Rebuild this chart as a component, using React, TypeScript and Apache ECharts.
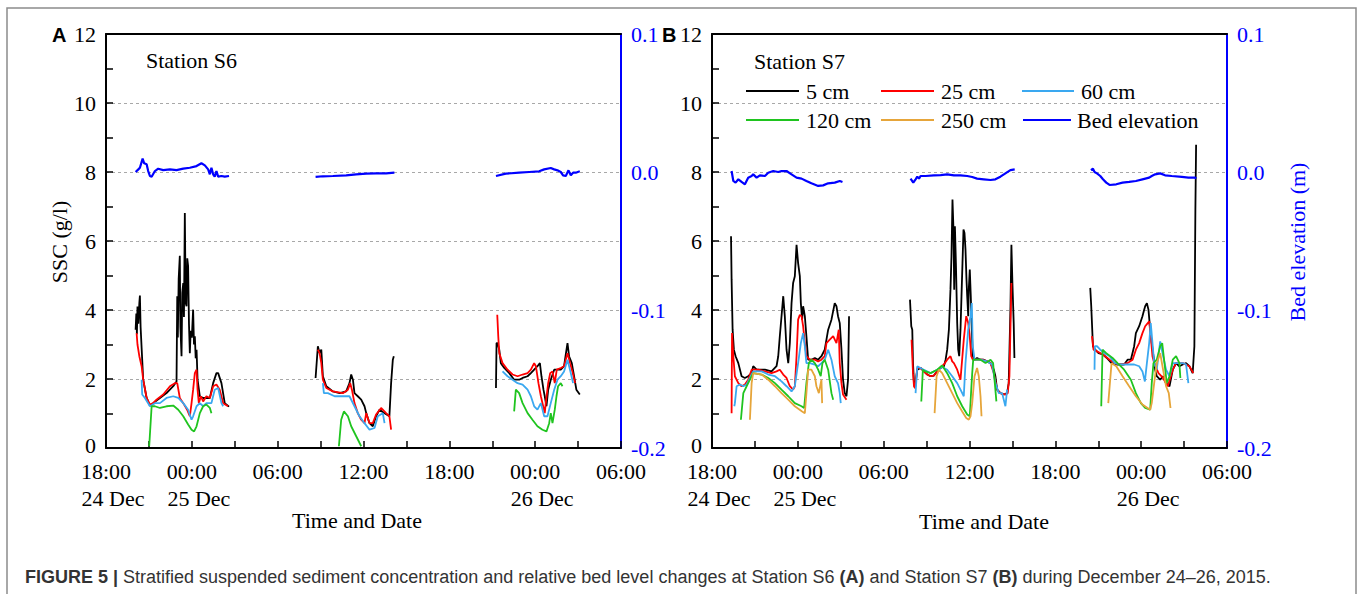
import React, { useEffect, useRef } from "react";
import * as echarts from "echarts";

// ---- axis tick labels ----
const TIME_LABELS = ["18:00", "00:00", "06:00", "12:00", "18:00", "00:00", "06:00"];
const DATE_LABELS = ["24 Dec", "25 Dec", "", "", "", "26 Dec", ""];
// x = hours after 18:00, 24 Dec 2015 (axis spans 36 h)
const X_MAX = 36;

// ---- Station S6 (panel A) : [hour, SSC g/l] ----
const S6_5CM = [
  [[2.07,3.43],[2.12,3.9],[2.16,3.3],[2.2,4.1],[2.26,3.6],[2.33,4.2],[2.37,4.42],[2.42,3.5],[2.49,2.9],[2.6,1.98],[2.84,1.45],[3.07,1.23],[3.3,1.3],[3.77,1.45],[4.23,1.59],[4.7,1.79],[4.93,1.93],[4.98,4.4],[5.02,3.2],[5.08,4.9],[5.16,5.57],[5.2,3.5],[5.28,2.66],[5.33,4.5],[5.4,4.78],[5.45,3.8],[5.51,6.81],[5.57,4.2],[5.63,4.11],[5.68,5.5],[5.74,5.27],[5.8,3.6],[5.86,2.75],[5.92,3.4],[6.0,3.2],[6.09,4.01],[6.15,3.0],[6.21,3.24],[6.27,2.6],[6.33,2.85],[6.4,1.98],[6.56,1.5],[6.79,1.45],[7.02,1.45],[7.26,1.45],[7.49,1.88],[7.72,2.17],[7.84,2.17],[8.07,1.88],[8.3,1.3],[8.6,1.2]],
  [[14.65,2.03],[14.81,2.95],[14.93,2.75],[15.05,2.85],[15.16,2.08],[15.4,1.79],[15.86,1.64],[16.33,1.59],[16.79,1.64],[17.02,1.88],[17.14,2.13],[17.26,1.98],[17.37,1.59],[17.6,1.5],[17.84,1.4],[18.07,1.21],[18.19,1.01],[18.42,0.72],[18.65,0.63],[18.88,0.92],[19.12,1.11],[19.47,1.01],[19.81,0.92],[19.93,1.88],[20.05,2.56],[20.12,2.66]],
  [[27.26,1.74],[27.3,3.04],[27.37,3.04],[27.49,2.85],[27.6,2.46],[27.84,2.32],[28.19,2.17],[28.53,1.98],[28.88,1.98],[29.12,2.03],[29.47,2.08],[29.7,2.17],[29.93,2.27],[30.16,2.37],[30.33,2.46],[30.44,2.08],[30.58,1.69],[30.67,1.5],[30.79,1.21],[30.91,1.69],[31.09,1.98],[31.33,2.27],[31.56,2.27],[31.79,2.27],[32.02,2.37],[32.19,2.85],[32.26,3.04],[32.37,2.66],[32.56,2.46],[32.72,2.08],[32.88,1.69],[33.12,1.55]],
];
const S6_25CM = [
  [[2.14,3.33],[2.2,3.0],[2.33,2.66],[2.49,2.37],[2.6,1.98],[2.84,1.45],[3.07,1.26],[3.3,1.3],[3.53,1.4],[4.0,1.55],[4.47,1.79],[4.81,1.88],[4.98,1.88],[5.16,1.45],[5.4,1.3],[5.67,1.11],[5.86,0.92],[5.98,1.3],[6.09,1.69],[6.21,2.17],[6.33,2.27],[6.4,1.69],[6.49,1.3],[6.63,1.5],[6.79,1.35],[7.02,1.5],[7.26,1.45],[7.49,1.79],[7.72,1.84],[7.95,1.69],[8.19,1.3],[8.53,1.21]],
  [[14.81,2.85],[14.93,2.75],[15.05,2.46],[15.16,1.98],[15.4,1.74],[15.86,1.64],[16.56,1.59],[16.91,1.69],[17.07,1.88],[17.19,1.69],[17.37,1.3],[17.6,1.01],[17.84,0.82],[18.07,0.72],[18.19,1.01],[18.42,0.72],[18.65,0.72],[18.88,0.97],[19.23,1.16],[19.58,1.01],[19.81,0.92],[19.93,0.53]],
  [[27.35,3.86],[27.42,3.24],[27.49,2.75],[27.72,2.46],[28.07,2.27],[28.42,2.13],[28.77,2.08],[29.12,2.13],[29.47,2.17],[29.7,2.27],[29.93,2.46],[30.05,2.37],[30.23,1.88],[30.4,1.5],[30.56,1.21],[30.67,1.01],[30.74,1.3],[30.91,1.88],[31.05,2.17],[31.21,2.22],[31.37,1.88],[31.51,2.27],[31.79,2.32],[32.02,2.37],[32.26,2.75],[32.44,2.46],[32.6,2.22],[32.79,1.88]],
];
const S6_60CM = [
  [[2.49,1.98],[2.53,1.55],[2.72,1.45],[3.07,1.21],[3.42,1.3],[3.77,1.3],[4.23,1.45],[4.7,1.5],[5.05,1.45],[5.4,1.3],[5.74,1.11],[5.98,0.82],[6.09,0.92],[6.33,1.21],[6.56,1.3],[6.79,1.21],[7.02,1.3],[7.37,1.3],[7.6,1.69],[7.84,1.74],[8.07,1.3],[8.19,1.21]],
  [[15.16,1.88],[15.23,1.59],[15.51,1.59],[15.98,1.5],[16.56,1.5],[17.02,1.5],[17.37,1.21],[17.72,0.92],[18.07,0.72],[18.42,0.53],[18.77,0.58],[19.0,0.92],[19.35,1.01],[19.47,0.72]],
  [[27.72,2.22],[28.07,2.08],[28.42,1.98],[28.77,1.88],[29.12,1.84],[29.47,1.69],[29.7,1.5],[29.93,1.21],[30.16,1.11],[30.4,1.3],[30.63,0.92],[30.86,0.92],[31.09,1.3],[31.33,1.69],[31.56,1.98],[31.79,2.08],[32.02,2.22],[32.26,2.56],[32.49,2.17],[32.65,1.88]],
];
const S6_120CM = [
  [[3.02,0.05],[3.19,1.21],[3.42,1.21],[3.77,1.16],[4.23,1.21],[4.7,1.23],[5.05,1.11],[5.4,0.92],[5.74,0.68],[5.98,0.53],[6.16,0.48],[6.33,0.63],[6.56,1.01],[6.79,1.21],[7.02,1.26],[7.26,1.16],[7.37,1.01]],
  [[16.28,0.05],[16.44,0.82],[16.63,1.06],[16.91,0.92],[17.14,0.63],[17.49,0.34],[17.84,0.05]],
  [[28.53,1.06],[28.65,1.69],[28.88,1.59],[29.12,1.3],[29.47,1.01],[29.81,0.82],[30.16,0.63],[30.51,0.53],[30.79,0.48],[30.98,0.72],[31.09,1.01],[31.21,0.72],[31.37,1.11],[31.49,1.5],[31.6,1.79],[31.79,1.88],[31.91,1.79]],
];
// bed elevation, m
const S6_BED = [
  [[2.07,0.0],[2.26,0.0019],[2.37,0.0031],[2.56,0.0097],[2.67,0.0063],[2.84,0.0056],[2.95,0.0007],[3.07,-0.0029],[3.19,-0.0034],[3.42,0.0007],[3.65,0.0024],[4.0,0.0014],[4.47,0.0019],[4.93,0.0014],[5.4,0.0024],[5.86,0.0031],[6.33,0.0043],[6.67,0.0063],[6.91,0.0048],[7.14,0.0019],[7.26,-0.0017],[7.37,0.0031],[7.49,-0.0017],[7.6,-0.0034],[7.72,0.0007],[7.84,-0.0034],[8.07,-0.0029],[8.3,-0.0034],[8.6,-0.0029]],
  [[14.65,-0.0036],[15.16,-0.0031],[15.86,-0.0029],[16.79,-0.0024],[17.49,-0.0017],[18.19,-0.0012],[18.88,-0.001],[19.58,-0.001],[20.16,-0.0005]],
  [[27.26,-0.0029],[27.95,-0.0012],[28.88,-0.0005],[29.58,0.0],[30.28,0.0005],[30.63,0.0019],[31.09,0.0029],[31.33,0.0019],[31.56,0.0012],[31.79,0.0],[31.95,-0.0024],[32.14,-0.0029],[32.33,0.0012],[32.49,-0.0024],[32.65,-0.0005],[32.84,-0.0005],[33.12,0.0005]],
];

// ---- Station S7 (panel B) ----
const S7_5CM = [
  [[1.33,6.14],[1.37,4.88],[1.44,3.43],[1.53,2.85],[1.65,2.66],[1.84,2.46],[2.07,2.08],[2.3,2.03],[2.53,2.08],[2.77,2.17],[2.88,2.37],[3.12,2.27],[3.7,2.27],[4.16,2.22],[4.51,2.37],[4.63,2.66],[4.74,3.24],[4.86,3.82],[4.98,4.4],[5.09,3.82],[5.21,2.85],[5.33,2.46],[5.44,3.04],[5.56,4.2],[5.67,4.78],[5.79,4.98],[5.91,5.89],[6.02,5.36],[6.14,4.98],[6.21,4.2],[6.3,3.72],[6.37,4.11],[6.49,3.82],[6.6,3.24],[6.72,2.56],[6.95,2.56],[7.19,2.61],[7.42,2.56],[7.65,2.66],[7.88,2.85],[8.12,3.43],[8.35,3.72],[8.58,4.2],[8.7,4.11],[8.81,3.82],[8.93,3.62],[9.05,2.85],[9.16,1.98],[9.28,1.59],[9.4,1.5],[9.51,1.98],[9.58,3.82]],
  [[13.84,4.3],[13.93,3.53],[14.0,3.43],[14.05,2.46],[14.12,1.88],[14.19,1.74],[14.35,2.27],[14.58,2.32],[14.81,2.22],[15.05,2.13],[15.28,2.08],[15.51,2.1],[15.74,2.22],[15.98,2.32],[16.21,2.37],[16.33,2.56],[16.44,2.85],[16.56,3.43],[16.67,4.59],[16.74,5.56],[16.81,7.2],[16.88,6.33],[16.93,4.59],[16.98,6.43],[17.05,5.36],[17.14,3.62],[17.21,2.85],[17.28,2.66],[17.37,3.43],[17.44,4.4],[17.51,5.36],[17.58,6.33],[17.65,6.23],[17.72,5.75],[17.79,4.88],[17.84,4.4],[17.91,3.82],[17.95,4.59],[18.02,5.17],[18.09,4.4],[18.16,3.43],[18.23,2.66],[18.35,2.56],[18.53,2.61],[18.77,2.56],[19.0,2.56],[19.23,2.51],[19.47,2.46],[19.7,2.27],[19.81,2.08],[19.93,1.69],[20.16,1.59],[20.4,1.55],[20.63,1.59],[20.74,1.88],[20.86,4.01],[20.93,5.89],[21.0,4.78],[21.09,3.62],[21.14,2.61]],
  [[26.44,4.64],[26.51,4.11],[26.58,3.43],[26.63,2.95],[26.79,2.85],[27.02,2.75],[27.33,2.71],[27.6,2.61],[27.93,2.46],[28.35,2.42],[28.81,2.42],[29.05,2.56],[29.28,2.56],[29.51,2.95],[29.63,3.33],[29.86,3.53],[30.09,3.82],[30.21,4.01],[30.28,4.11],[30.4,4.2],[30.51,4.01],[30.63,3.43],[30.74,3.04],[30.86,2.66],[30.98,2.27],[31.09,2.08],[31.33,1.98],[31.53,2.08],[31.74,1.88],[31.98,1.79],[32.21,2.27],[32.44,2.46],[32.67,2.37],[32.91,2.42],[33.14,2.46],[33.37,2.37],[33.6,2.17],[33.72,2.95],[33.79,6.91],[33.84,8.79]],
];
const S7_25CM = [
  [[1.37,1.01],[1.4,3.33],[1.49,2.66],[1.6,2.08],[1.84,1.88],[2.07,1.79],[2.3,1.84],[2.53,1.98],[2.77,2.27],[3.23,2.27],[3.7,2.22],[4.16,2.17],[4.51,2.22],[4.74,2.27],[4.98,2.13],[5.21,2.03],[5.44,1.79],[5.67,1.69],[5.79,1.79],[5.91,2.66],[6.02,3.72],[6.14,3.86],[6.26,3.82],[6.37,3.53],[6.49,3.04],[6.6,2.66],[6.84,2.56],[7.19,2.56],[7.42,2.51],[7.65,2.56],[7.88,2.66],[8.0,3.04],[8.23,3.14],[8.47,3.24],[8.7,3.04],[8.86,3.43],[8.93,2.46],[9.05,1.88],[9.16,1.55],[9.4,1.4]],
  [[13.95,3.14],[14.05,2.17],[14.12,1.79],[14.19,1.74],[14.35,2.32],[14.58,2.32],[14.81,2.22],[15.05,2.13],[15.28,2.08],[15.51,2.1],[15.74,2.22],[15.98,2.35],[16.21,2.42],[16.44,2.56],[16.67,2.66],[16.79,2.51],[16.91,2.46],[17.14,2.27],[17.37,1.98],[17.6,3.14],[17.77,3.82],[17.91,3.62],[18.0,3.33],[18.12,2.66],[18.23,2.56],[18.53,2.56],[18.88,2.56],[19.23,2.51],[19.47,2.46],[19.7,2.17],[19.93,1.69],[20.16,1.59],[20.51,1.55],[20.67,1.59],[20.79,2.08],[20.86,3.43],[20.93,4.78]],
  [[26.56,3.24],[26.67,2.85],[26.91,2.8],[27.33,2.71],[27.79,2.56],[28.16,2.46],[28.58,2.42],[29.05,2.46],[29.4,2.56],[29.63,2.85],[29.86,3.04],[30.09,3.33],[30.28,3.53],[30.56,3.67],[30.67,3.24],[30.79,2.66],[30.91,2.46],[31.21,2.17],[31.53,2.03],[31.86,1.79],[32.21,2.27],[32.44,2.46],[32.91,2.46],[33.37,2.37],[33.65,2.17]],
];
const S7_60CM = [
  [[1.56,1.21],[1.6,1.3],[1.72,1.79],[1.95,1.84],[2.19,1.79],[2.42,1.84],[2.65,2.03],[2.88,2.22],[3.47,2.22],[3.93,2.13],[4.4,2.08],[4.86,1.93],[5.21,1.79],[5.56,1.64],[5.79,1.79],[6.02,2.46],[6.21,3.04],[6.37,3.33],[6.49,2.95],[6.6,2.46],[6.84,2.46],[7.19,2.42],[7.42,2.37],[7.65,2.46],[7.88,2.56],[8.12,2.85],[8.35,2.56],[8.58,2.08],[8.81,1.88],[8.93,1.59],[9.0,1.3]],
  [[14.23,1.59],[14.35,2.37],[14.58,2.32],[14.81,2.27],[15.28,2.17],[15.74,2.27],[16.09,2.35],[16.44,2.27],[16.79,2.08],[17.14,1.88],[17.37,1.69],[17.6,1.5],[17.72,2.46],[17.91,3.43],[18.07,3.82],[18.16,4.2],[18.23,2.95],[18.35,2.56],[18.77,2.56],[19.23,2.51],[19.58,2.42],[19.81,1.88],[20.05,1.59],[20.28,1.59],[20.51,1.21],[20.63,1.69]],
  [[26.74,2.27],[26.76,2.95],[26.91,2.95],[27.14,2.85],[27.44,2.75],[27.79,2.66],[28.16,2.46],[28.58,2.42],[29.05,2.42],[29.51,2.42],[29.86,2.37],[30.09,2.22],[30.26,1.93],[30.4,2.46],[30.56,3.04],[30.67,3.62],[30.79,3.04],[30.91,2.46],[31.09,2.27],[31.33,3.09],[31.44,2.85],[31.74,2.27],[31.98,2.08],[32.21,2.46],[32.44,2.46],[32.91,2.46],[33.14,2.42],[33.3,1.88]],
];
const S7_120CM = [
  [[2.02,0.82],[2.19,1.59],[2.42,1.79],[2.65,1.98],[2.88,2.17],[3.47,2.13],[3.93,2.03],[4.4,1.88],[4.86,1.69],[5.33,1.5],[5.79,1.3],[6.26,1.21],[6.44,1.16],[6.6,1.88],[6.77,2.46],[6.95,2.56],[7.19,2.46],[7.42,2.27],[7.6,2.08],[7.72,2.46],[7.88,2.56],[8.12,2.27],[8.35,1.59],[8.47,1.4]],
  [[14.63,1.35],[14.74,2.27],[14.93,2.22],[15.28,2.17],[15.74,2.27],[16.09,2.39],[16.44,2.17],[16.79,1.88],[17.14,1.5],[17.49,1.21],[17.84,0.97],[18.02,0.92],[18.12,1.69],[18.19,2.17],[18.26,2.56],[18.42,2.56],[18.77,2.56],[19.12,2.46],[19.47,2.56],[19.65,2.46],[19.77,1.88],[19.88,1.35]],
  [[27.21,1.21],[27.3,2.85],[27.56,2.75],[28.0,2.61],[28.35,2.46],[28.81,2.27],[29.28,1.98],[29.63,1.59],[29.98,1.3],[30.28,1.16],[30.63,1.11],[30.74,1.88],[30.86,2.46],[31.09,2.56],[31.33,2.95],[31.47,3.04],[31.63,2.46],[31.79,1.88],[31.98,2.08],[32.21,2.56],[32.44,2.66],[32.67,2.46],[32.74,2.03]],
];
const S7_250CM = [
  [[2.65,0.82],[2.77,1.88],[2.88,2.17],[3.47,2.13],[3.93,1.98],[4.4,1.79],[4.86,1.59],[5.33,1.4],[5.79,1.21],[6.3,1.06],[6.49,1.01],[6.6,1.59],[6.72,2.27],[6.95,2.27],[7.19,2.08],[7.3,1.79],[7.47,1.59],[7.6,1.88],[7.65,1.98],[7.7,1.3]],
  [[15.56,1.01],[15.7,2.08],[15.86,2.27],[16.09,2.17],[16.44,1.88],[16.79,1.59],[17.14,1.3],[17.49,1.06],[17.77,0.87],[17.95,0.82],[18.07,0.92],[18.19,1.3],[18.35,2.08],[18.53,2.32],[18.65,2.08],[18.77,1.5],[18.84,0.92]],
  [[27.7,1.3],[27.93,2.46],[28.26,2.37],[28.7,2.08],[29.16,1.79],[29.63,1.5],[30.09,1.26],[30.63,1.11],[30.74,1.3],[30.91,1.88],[31.09,2.46],[31.33,2.75],[31.53,2.27],[31.74,1.79],[31.93,1.59],[32.05,1.16]],
];
const S7_BED = [
  [[1.37,0.0007],[1.49,-0.0065],[1.65,-0.0077],[1.84,-0.0053],[2.07,-0.0072],[2.3,-0.0089],[2.53,-0.0041],[2.77,-0.0029],[2.88,-0.0017],[3.12,-0.0041],[3.35,-0.0024],[3.7,-0.0029],[3.93,-0.0005],[4.28,0.0007],[4.63,0.0],[4.86,0.0007],[5.21,0.0007],[5.56,-0.0017],[5.91,-0.0041],[6.26,-0.0048],[6.6,-0.0065],[6.95,-0.0082],[7.42,-0.0101],[7.77,-0.0097],[8.12,-0.0082],[8.58,-0.0077],[8.93,-0.0065],[9.12,-0.0072]],
  [[13.88,-0.0048],[14.07,-0.0077],[14.23,-0.0053],[14.35,-0.0034],[14.47,-0.0048],[14.58,-0.0029],[14.93,-0.0029],[15.51,-0.0024],[15.98,-0.0022],[16.44,-0.0017],[16.91,-0.0024],[17.37,-0.0024],[17.84,-0.0029],[18.19,-0.0036],[18.53,-0.0048],[19.0,-0.0053],[19.47,-0.0058],[19.81,-0.0053],[20.16,-0.0034],[20.51,-0.001],[20.86,0.0014],[21.16,0.0019]],
  [[26.49,0.0014],[26.63,0.0024],[26.74,0.0],[26.91,-0.001],[27.14,-0.0029],[27.33,-0.0053],[27.56,-0.0077],[27.79,-0.0094],[28.26,-0.0089],[28.7,-0.0077],[29.16,-0.0072],[29.63,-0.0065],[30.09,-0.0053],[30.56,-0.0041],[30.74,-0.0029],[30.98,-0.0017],[31.33,-0.001],[31.67,-0.0024],[32.14,-0.0029],[32.84,-0.0036],[33.3,-0.0041],[33.77,-0.0041],[33.84,-0.0048]],
];

const COLORS = {
  c5: "#000000",
  c25: "#ff0000",
  c60: "#3aa8f0",
  c120: "#1fc41f",
  c250: "#e6a53a",
  bed: "#0000ff",
};

const SERIF = "'Liberation Serif', 'Times New Roman', serif";
const SANS = "'Liberation Sans', Arial, sans-serif";

function joinSegments(segs: number[][][]) {
  const out: any[] = [];
  segs.forEach((seg, i) => {
    if (i > 0) {
      const prev = segs[i - 1];
      out.push([(prev[prev.length - 1][0] + seg[0][0]) / 2, "-"]);
    }
    seg.forEach((p) => out.push(p));
  });
  return out;
}

function lineSeries(segs: number[][][], color: string, xi: number, yi: number, width: number) {
  return {
    type: "line",
    data: joinSegments(segs),
    xAxisIndex: xi,
    yAxisIndex: yi,
    showSymbol: false,
    symbol: "none",
    connectNulls: false,
    silent: true,
    lineStyle: { color, width },
    itemStyle: { color },
  };
}

function xAxes(gridIndex: number) {
  return [
    {
      type: "value",
      gridIndex,
      min: 0,
      max: X_MAX,
      interval: 6,
      position: "bottom",
      axisLine: { show: true, onZero: false, lineStyle: { color: "#000", width: 2 } },
      axisTick: { show: true, inside: true, length: 7, lineStyle: { color: "#000", width: 1.5 } },
      minorTick: { show: true, splitNumber: 2, length: 7, lineStyle: { color: "#000", width: 1.5 } },
      splitLine: { show: false },
      axisLabel: {
        margin: 13,
        showMinLabel: true,
        showMaxLabel: true,
        formatter: (v: number) => {
          const i = Math.round(v / 6);
          const t = TIME_LABELS[i] ?? "";
          const d = DATE_LABELS[i] ?? "";
          return d ? `{t|${t}}\n{d|${d}}` : `{t|${t}}`;
        },
        rich: {
          t: { fontFamily: SERIF, fontSize: 22, color: "#000", lineHeight: 20 },
          d: { fontFamily: SERIF, fontSize: 22, color: "#000", lineHeight: 34, padding: [0, 0, 0, 14] },
        },
      },
    },
    {
      type: "value",
      gridIndex,
      min: 0,
      max: X_MAX,
      position: "top",
      axisLine: { show: true, onZero: false, lineStyle: { color: "#000", width: 2 } },
      axisTick: { show: false },
      axisLabel: { show: false },
      splitLine: { show: false },
    },
  ];
}

function yAxes(gridIndex: number) {
  return [
    {
      type: "value",
      gridIndex,
      min: 0,
      max: 12,
      interval: 2,
      position: "left",
      axisLine: { show: true, onZero: false, lineStyle: { color: "#000", width: 2 } },
      axisTick: { show: true, inside: true, length: 7, lineStyle: { color: "#000", width: 1.5 } },
      minorTick: { show: true, splitNumber: 2, length: 7, lineStyle: { color: "#000", width: 1.5 } },
      axisLabel: {
        color: "#000",
        fontFamily: SERIF,
        fontSize: 22,
        margin: 10,
        formatter: (v: number) => (v === 0 ? "{z|0}" : String(v)),
        rich: { z: { fontFamily: SERIF, fontSize: 22, color: "#000", padding: [0, 0, 6, 0] } },
      },
      splitLine: { show: true, lineStyle: { color: "#a8a8a8", width: 1, type: [3, 3] } },
    },
    {
      type: "value",
      gridIndex,
      min: -0.2,
      max: 0.1,
      interval: 0.1,
      position: "right",
      axisLine: { show: true, onZero: false, lineStyle: { color: "#0000ff", width: 2 } },
      axisTick: { show: false },
      axisLabel: {
        color: "#0000ff",
        fontFamily: SERIF,
        fontSize: 22,
        margin: 10,
        formatter: (v: number) => (Math.abs(v) < 1e-9 ? "0.0" : v.toFixed(1)),
      },
      splitLine: { show: false },
    },
  ];
}

function txt(text: string, x: number, y: number, opts: any = {}) {
  const align = opts.align || "left";
  return {
    type: "text",
    x,
    y,
    rotation: opts.rotation || 0,
    silent: true,
    style: {
      text,
      x: 0,
      y: 0,
      fill: opts.color || "#000",
      font: opts.font || `22px ${SERIF}`,
      align,
      textAlign: align,
      verticalAlign: "middle",
      textVerticalAlign: "middle",
      rich: opts.rich,
    },
  };
}

function legLine(x1: number, x2: number, y: number, color: string) {
  return {
    type: "line",
    silent: true,
    shape: { x1, y1: y, x2, y2: y },
    style: { stroke: color, lineWidth: 2 },
  };
}

export default function App() {
  const ref = useRef<HTMLDivElement>(null);
  useEffect(() => {
    if (!ref.current) return;
    const chart = echarts.init(ref.current, undefined, { renderer: "svg" });
    const option: any = {
      animation: false,
      backgroundColor: "#ffffff",
      grid: [
        { left: 106, top: 34, width: 515, height: 414 },
        { left: 712, top: 34, width: 515, height: 414 },
      ],
      xAxis: [...xAxes(0), ...xAxes(1)],
      yAxis: [...yAxes(0), ...yAxes(1)],
      series: [
        lineSeries(S6_5CM, COLORS.c5, 0, 0, 1.8),
        lineSeries(S6_25CM, COLORS.c25, 0, 0, 1.8),
        lineSeries(S6_60CM, COLORS.c60, 0, 0, 1.8),
        lineSeries(S6_120CM, COLORS.c120, 0, 0, 1.8),
        lineSeries(S6_BED, COLORS.bed, 0, 1, 2.2),
        lineSeries(S7_5CM, COLORS.c5, 2, 2, 1.8),
        lineSeries(S7_25CM, COLORS.c25, 2, 2, 1.8),
        lineSeries(S7_60CM, COLORS.c60, 2, 2, 1.8),
        lineSeries(S7_120CM, COLORS.c120, 2, 2, 1.8),
        lineSeries(S7_250CM, COLORS.c250, 2, 2, 1.8),
        lineSeries(S7_BED, COLORS.bed, 2, 3, 2.2),
      ],
      graphic: [
        {
          type: "rect",
          silent: true,
          shape: { x: 7, y: 8, width: 1349, height: 700 },
          style: { fill: "none", stroke: "#8c8c8c", lineWidth: 1.5 },
        },
        txt("A", 52, 35, { font: `bold 20px ${SANS}` }),
        txt("B", 662, 35, { font: `bold 20px ${SANS}` }),
        txt("Station S6", 146, 60),
        txt("Station S7", 754, 61),
        txt("SSC (g/l)", 59, 242, { align: "center", rotation: Math.PI / 2 }),
        txt("Bed elevation (m)", 1297, 242, { align: "center", rotation: Math.PI / 2, color: "#0000ff" }),
        txt("Time and Date", 357, 520, { align: "center" }),
        txt("Time and Date", 984, 521, { align: "center" }),
        // legend (panel B)
        legLine(746, 799, 91, COLORS.c5),
        txt("5 cm", 806, 91),
        legLine(881, 934, 91, COLORS.c25),
        txt("25 cm", 941, 91),
        legLine(1022, 1074, 91, COLORS.c60),
        txt("60 cm", 1081, 91),
        legLine(746, 799, 120, COLORS.c120),
        txt("120 cm", 806, 120),
        legLine(881, 934, 120, COLORS.c250),
        txt("250 cm", 941, 120),
        legLine(1023, 1071, 120, COLORS.bed),
        txt("Bed elevation", 1077, 120),
        // caption
        txt(
          "{b|FIGURE 5 |}{n| Stratified suspended sediment concentration and relative bed level changes at Station S6 }{b|(A)}{n| and Station S7 }{b|(B)}{n| during December 24–26, 2015.}",
          25,
          577,
          {
            font: `18px ${SANS}`,
            color: "#333",
            rich: {
              b: { fontFamily: SANS, fontSize: 18, fontWeight: "bold", fill: "#333", color: "#333" },
              n: { fontFamily: SANS, fontSize: 18, fill: "#333", color: "#333" },
            },
          }
        ),
      ],
    };
    chart.setOption(option);
    return () => chart.dispose();
  }, []);
  return <div ref={ref} style={{ position: "fixed", left: 0, top: 0, width: 1358, height: 594 }} />;
}
